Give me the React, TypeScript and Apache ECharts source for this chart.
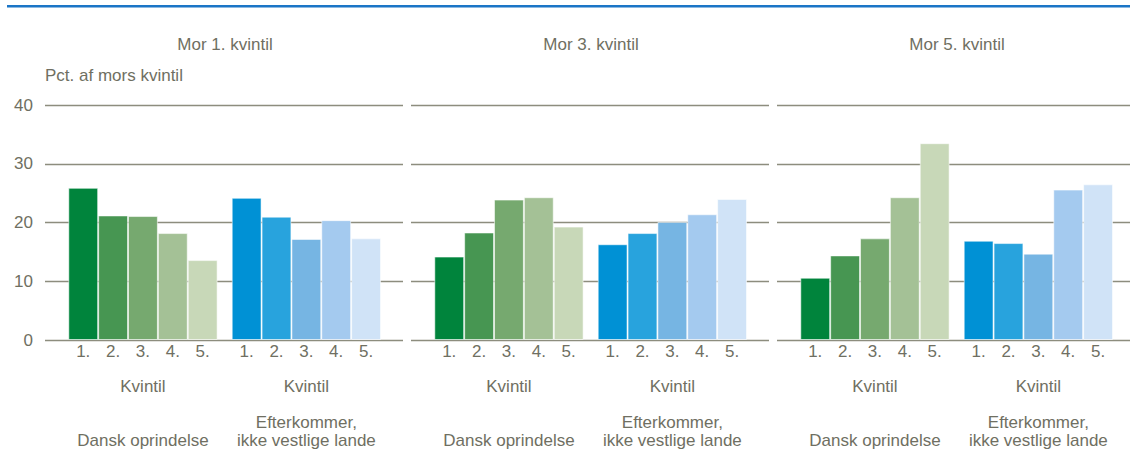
import React, { useEffect, useRef } from "react";
import * as echarts from "echarts";

const panelTitles = ["Mor 1. kvintil", "Mor 3. kvintil", "Mor 5. kvintil"];
const quintiles = ["1.", "2.", "3.", "4.", "5."];
const groupNames = ["Dansk oprindelse", "Efterkommer,\nikke vestlige lande"];
const axisTitle = "Kvintil";
const yAxisName = "Pct. af mors kvintil";
const yTicks = [0, 10, 20, 30, 40];

// values per panel: [dansk, efterkommer]
const mor1Dansk = [25.9, 21.2, 21.1, 18.2, 13.6];
const mor1Efter = [24.2, 21.0, 17.2, 20.4, 17.3];
const mor3Dansk = [14.2, 18.3, 23.9, 24.3, 19.3];
const mor3Efter = [16.3, 18.2, 20.1, 21.4, 24.0];
const mor5Dansk = [10.6, 14.4, 17.3, 24.3, 33.5];
const mor5Efter = [16.9, 16.5, 14.7, 25.6, 26.5];

const greens = ["#00843c", "#479652", "#76a96f", "#a4c196", "#c8d8b8"];
const blues = ["#0091d5", "#28a3dd", "#76b5e3", "#a4caef", "#d0e3f7"];

const panelData = [
  [mor1Dansk, mor1Efter],
  [mor3Dansk, mor3Efter],
  [mor5Dansk, mor5Efter],
];

const FONT = "'Liberation Sans', Arial, sans-serif";
const TXT = "#6f6f62";
const GRIDC = "#8d8d7e";

export default function App() {
  const ref = useRef<HTMLDivElement>(null);
  useEffect(() => {
    if (!ref.current) return;
    const chart = echarts.init(ref.current, null, { renderer: "svg" });

    const panelLefts = [45, 411, 777];
    const panelWidth = 358;
    const top = 105;
    const height = 235;
    const groupOffsets = [23.3, 186.7];
    const groupWidth = 149.3;

    const grid: any[] = [];
    const xAxis: any[] = [];
    const yAxis: any[] = [];
    const series: any[] = [];
    const title: any[] = [];

    panelLefts.forEach((pl, p) => {
      grid.push({ left: pl, top, width: panelWidth, height, outerBoundsMode: "none", containLabel: false });
      xAxis.push({ gridIndex: grid.length - 1, type: "value", min: 0, max: 1, show: false });
      yAxis.push({
        gridIndex: grid.length - 1,
        type: "value",
        min: yTicks[0],
        max: yTicks[yTicks.length - 1],
        interval: 10,
        axisLine: { show: false },
        axisTick: { show: false },
        splitLine: { show: true, lineStyle: { color: GRIDC, width: 1.3 } },
        axisLabel: {
          show: p === 0,
          color: TXT,
          fontSize: 17,
          fontFamily: FONT,
          margin: 12,
        },
        name: p === 0 ? yAxisName : "",
        nameLocation: "end",
        nameGap: 30,
        nameTextStyle: {
          color: TXT,
          fontSize: 17,
          fontFamily: FONT,
          align: "left",
          verticalAlign: "middle",
        },
      });
      title.push({
        text: panelTitles[p],
        left: pl + panelWidth / 2 - 4,
        top: 31,
        textAlign: "center",
        textStyle: { color: TXT, fontSize: 17, fontWeight: "normal", fontFamily: FONT },
      });
    });

    panelLefts.forEach((pl, p) => {
      [0, 1].forEach((g) => {
        grid.push({
          left: pl + groupOffsets[g],
          top,
          width: groupWidth,
          height,
          outerBoundsMode: "none",
          containLabel: false,
        });
        const gi = grid.length - 1;
        const xi = xAxis.length;
        xAxis.push({
          gridIndex: gi,
          type: "category",
          data: quintiles,
          axisLine: { show: false },
          axisTick: { show: false },
          axisLabel: { color: TXT, fontSize: 17, fontFamily: FONT, margin: 3 },
          name: axisTitle,
          nameLocation: "middle",
          nameGap: 46,
          nameTextStyle: { color: TXT, fontSize: 17, fontFamily: FONT, verticalAlign: "middle" },
        });
        xAxis.push({
          gridIndex: gi,
          type: "category",
          data: quintiles,
          position: "bottom",
          axisLine: { show: false },
          axisTick: { show: false },
          axisLabel: { show: false },
          name: groupNames[g],
          nameLocation: "middle",
          nameGap: 109,
          nameTextStyle: {
            color: TXT,
            fontSize: 17,
            fontFamily: FONT,
            verticalAlign: "bottom",
            lineHeight: 18,
          },
        });
        const yi = yAxis.length;
        yAxis.push({ gridIndex: gi, type: "value", min: 0, max: 40, show: false });
        const cols = g === 0 ? greens : blues;
        series.push({
          type: "bar",
          xAxisIndex: xi,
          yAxisIndex: yi,
          barCategoryGap: "0%",
          data: panelData[p][g].map((v, i) => ({
            value: v,
            itemStyle: {
              color: cols[i],
              borderColor: "rgba(255,255,255,0.55)",
              borderWidth: 1,
            },
          })),
        });
      });
    });

    chart.setOption({
      animation: false,
      backgroundColor: "#ffffff",
      title,
      grid,
      xAxis,
      yAxis,
      series,
      graphic: [
        {
          type: "line",
          shape: { x1: 7, y1: 6.3, x2: 1130, y2: 6.3 },
          style: { stroke: "#1b75c6", lineWidth: 2.5 },
        },
      ],
    });
    return () => chart.dispose();
  }, []);
  return (
    <div
      ref={ref}
      style={{ position: "absolute", left: 0, top: 0, width: 1130, height: 450 }}
    />
  );
}
